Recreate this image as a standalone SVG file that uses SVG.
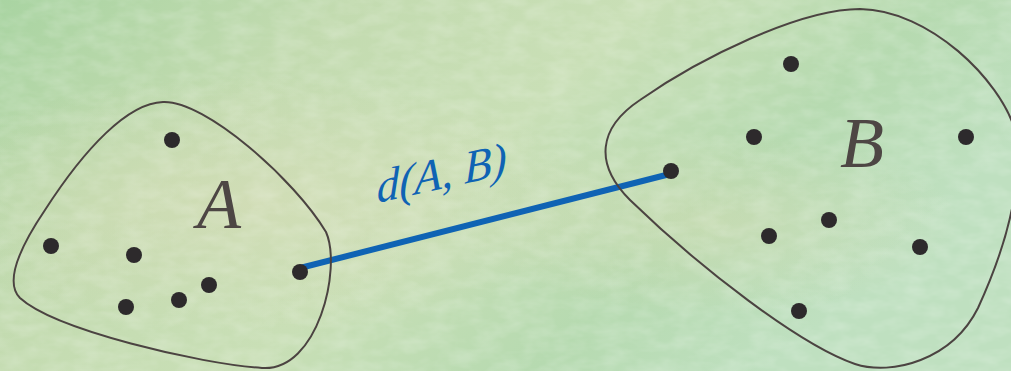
<svg xmlns="http://www.w3.org/2000/svg" width="1011" height="371" viewBox="0 0 1011 371">
  <defs>
    <linearGradient id="bg" x1="0" y1="0" x2="1" y2="0.4">
      <stop offset="0" stop-color="#a9d4a2"/>
      <stop offset="0.3" stop-color="#c3dbb0"/>
      <stop offset="0.55" stop-color="#c9dfb6"/>
      <stop offset="0.8" stop-color="#b6dab0"/>
      <stop offset="1" stop-color="#bfe0c0"/>
    </linearGradient>
    <radialGradient id="warm" cx="0.25" cy="0.55" r="0.35">
      <stop offset="0" stop-color="#d8ddb8" stop-opacity="0.6"/>
      <stop offset="1" stop-color="#d8ddb8" stop-opacity="0"/>
    </radialGradient>
    <radialGradient id="warm2" cx="0.7" cy="0.6" r="0.25">
      <stop offset="0" stop-color="#d5dcb4" stop-opacity="0.5"/>
      <stop offset="1" stop-color="#d5dcb4" stop-opacity="0"/>
    </radialGradient>
    <filter id="tex" x="0" y="0" width="100%" height="100%">
      <feTurbulence type="fractalNoise" baseFrequency="0.04 0.08" numOctaves="3" seed="4" result="n"/>
      <feColorMatrix in="n" type="matrix" values="0 0 0 0 1  0 0 0 0 1  0 0 0 0 1  0 0 0 0.35 -0.12"/>
    </filter>
    <style>
      .blob { fill: none; stroke: #4b4341; stroke-width: 2; }
      .pt { fill: #2d2a2c; }
      .lbl { font-family: "Liberation Serif", "DejaVu Serif", serif; font-style: italic; fill: #4d4644; font-size: 72px; }
      .edge { stroke: #0f63b4; stroke-width: 6; stroke-linecap: butt; }
      .elbl { font-family: "Liberation Serif", "DejaVu Serif", serif; font-style: italic; fill: #0f63b4; font-size: 46px; }
    </style>
  </defs>
  <rect width="1011" height="371" fill="url(#bg)"/>
  <rect width="1011" height="371" fill="url(#warm)"/>
  <rect width="1011" height="371" fill="url(#warm2)"/>
  <rect width="1011" height="371" filter="url(#tex)"/>

  <g id="connectors">
    <line class="edge" x1="300" y1="268" x2="670" y2="174"/>
    <text class="elbl" font-style="italic" transform="translate(377,203) rotate(-12.5) skewX(-12)">d(A, B)</text>
  </g>

  <g id="setA">
    <path class="blob" d="M 163,102 C 205,100 295,180 326,232 C 342,268 318,372 262,368 C 200,364 55,330 20,298 C 5,283 18,250 45,210 C 85,148 128,103 163,102 Z"/>
    <text class="lbl" x="197" y="228">A</text>
    <circle class="pt" cx="172" cy="140" r="8"/>
    <circle class="pt" cx="51" cy="246" r="8"/>
    <circle class="pt" cx="134" cy="255" r="8"/>
    <circle class="pt" cx="126" cy="307" r="8"/>
    <circle class="pt" cx="179" cy="300" r="8"/>
    <circle class="pt" cx="209" cy="285" r="8"/>
    <circle class="pt" cx="300" cy="272" r="8"/>
  </g>

  <g id="setB">
    <path class="blob" d="M 860,9 C 930,10 1000,80 1015,130 C 1025,190 1000,260 978,308 C 952,360 892,376 855,364 C 800,345 700,268 630,200 C 594,164 598,128 640,100 C 700,58 800,9 860,9 Z"/>
    <text class="lbl" x="840" y="167">B</text>
    <circle class="pt" cx="791" cy="64" r="8"/>
    <circle class="pt" cx="754" cy="137" r="8"/>
    <circle class="pt" cx="966" cy="137" r="8"/>
    <circle class="pt" cx="671" cy="171" r="8"/>
    <circle class="pt" cx="829" cy="220" r="8"/>
    <circle class="pt" cx="769" cy="236" r="8"/>
    <circle class="pt" cx="920" cy="247" r="8"/>
    <circle class="pt" cx="799" cy="311" r="8"/>
  </g>
</svg>
